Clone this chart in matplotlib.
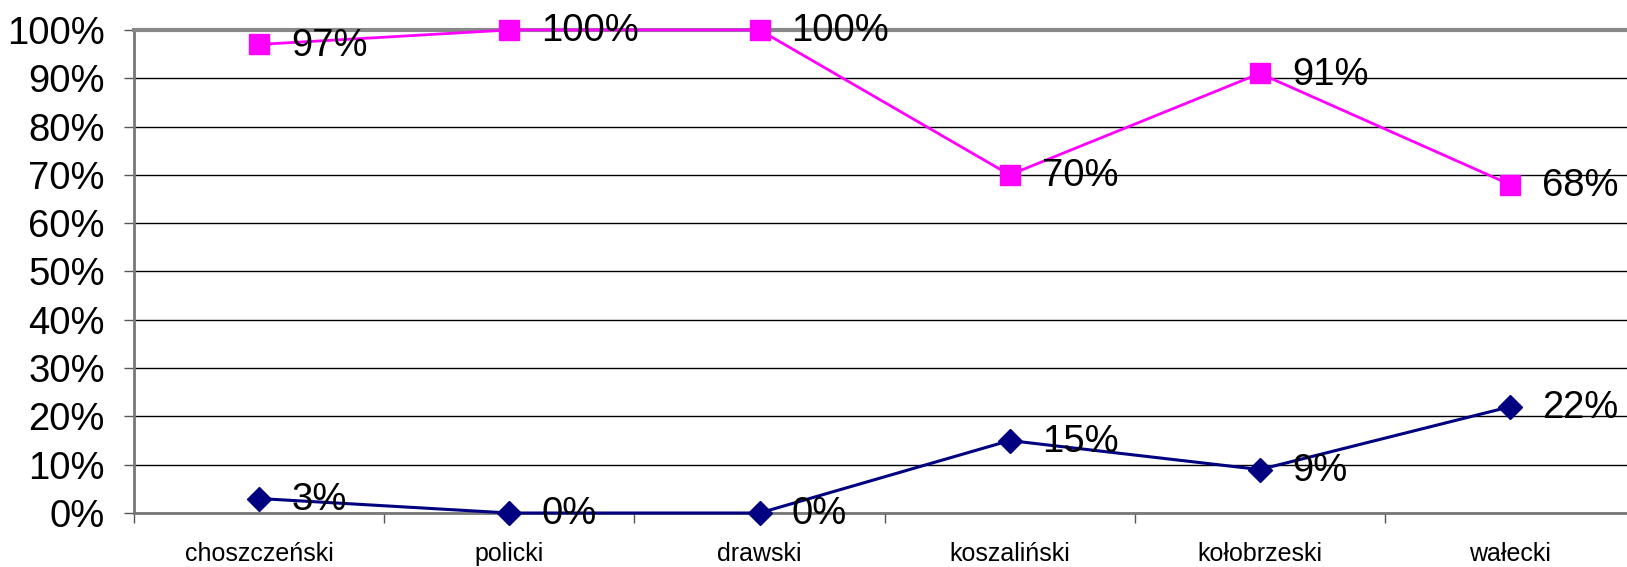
import matplotlib
matplotlib.use("Agg")
import matplotlib.pyplot as plt
from matplotlib.ticker import FixedLocator, NullFormatter

categories = ["choszczeński", "policki", "drawski", "koszaliński", "kołobrzeski", "wałecki"]
series_top = [97, 100, 100, 70, 91, 68]
series_bottom = [3, 0, 0, 15, 9, 22]
y_ticks = [0, 10, 20, 30, 40, 50, 60, 70, 80, 90, 100]

plt.rcParams['font.family'] = ['Liberation Sans', 'DejaVu Sans']

fig = plt.figure(figsize=(16.27, 5.67), dpi=100)
ax = fig.add_axes([0.0824, 0.0952, 0.9226, 0.852])

x = list(range(len(categories)))
ax.plot(x, series_top, color="#FF00FF", lw=2, marker="s", ms=15, mec="#FF00FF", mfc="#FF00FF", zorder=3, clip_on=False)
ax.plot(x, series_bottom, color="#000080", lw=2.2, marker="D", ms=12.5, mec="#000080", mfc="#000080", zorder=3, clip_on=False)

for vals in (series_top, series_bottom):
    for xi, v in zip(x, vals):
        ax.annotate(f"{v}%", (xi, v), xytext=(23, -1), textcoords="offset points",
                    ha="left", va="center", fontsize=27.5, color="black", zorder=4,
                    annotation_clip=False)

ax.set_xlim(-0.5, len(categories) - 0.5)
ax.set_ylim(0, 100)
ax.set_yticks(y_ticks)
ax.set_yticklabels([f"{t}%" for t in y_ticks], fontsize=27.5)
ax.yaxis.grid(True, color="black", lw=1)
ax.set_axisbelow(True)

ax.set_xticks(x)
ax.set_xticklabels(categories, fontsize=18)
ax.tick_params(axis="x", length=0, pad=21)
ax.xaxis.set_minor_locator(FixedLocator([i + 0.5 for i in range(-1, len(categories))]))
ax.xaxis.set_minor_formatter(NullFormatter())
ax.tick_params(axis="x", which="minor", length=7, width=1, color="#555555", direction="out")
ax.tick_params(axis="y", length=7, width=1, color="#555555", direction="out", pad=14)

ax.spines["right"].set_visible(False)
ax.spines["top"].set_color("#888888")
ax.spines["top"].set_linewidth(3)
ax.spines["left"].set_color("#777777")
ax.spines["left"].set_linewidth(2)
ax.spines["bottom"].set_color("#777777")
ax.spines["bottom"].set_linewidth(2)

fig.savefig("out.png", dpi=100)
